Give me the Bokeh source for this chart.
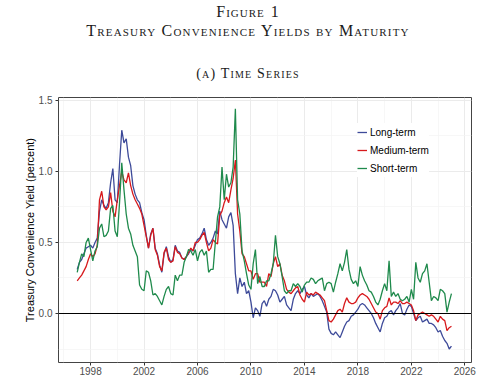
from bokeh.plotting import figure
from bokeh.models import Range1d, FixedTicker, PrintfTickFormatter, Span, Div
from bokeh.layouts import column
from bokeh.embed import file_html
from bokeh.resources import INLINE

# ---- data (bimonthly readings, 1997.0 .. 2025.0) ----
start_year = 1997
steps_per_year = 6

long_term = [
    0.31, 0.36, 0.38, 0.42, 0.46, 0.47,   # 1997
    0.48, 0.46, 0.50, 0.53, 0.72, 0.80,   # 1998
    0.76, 0.74, 0.78, 0.92, 1.02, 0.80,   # 1999
    0.78, 1.05, 1.29, 1.20, 1.23, 1.10,   # 2000
    1.04, 0.90, 0.84, 0.80, 0.78, 0.71,   # 2001
    0.66, 0.55, 0.46, 0.56, 0.60, 0.46,   # 2002
    0.42, 0.34, 0.29, 0.42, 0.47, 0.40,   # 2003
    0.36, 0.38, 0.48, 0.44, 0.43, 0.39,   # 2004
    0.38, 0.40, 0.42, 0.45, 0.44, 0.48,   # 2005
    0.52, 0.53, 0.56, 0.60, 0.52, 0.48,   # 2006
    0.50, 0.53, 0.58, 0.56, 0.72, 0.66,   # 2007
    0.63, 0.60, 0.68, 0.71, 0.62, 0.28,   # 2008
    0.14, 0.25, 0.19, 0.22, 0.14, 0.16,   # 2009
    0.08, -0.03, 0.04, 0.02, -0.02, 0.07,  # 2010
    0.09, 0.05, 0.10, 0.12, 0.17, 0.16,   # 2011
    0.13, 0.08, 0.10, 0.12, 0.06, 0.04,   # 2012
    0.02, 0.10, 0.14, 0.16, 0.14, 0.17,   # 2013
    0.19, 0.13, 0.11, 0.14, 0.12, 0.13,   # 2014
    0.14, 0.12, 0.09, 0.05, 0.01, -0.11,  # 2015
    -0.14, -0.15, -0.13, -0.15, -0.17, -0.13,  # 2016
    -0.09, -0.06, -0.05, -0.02, -0.01, 0.01,   # 2017
    0.03, 0.06, 0.07, 0.06, 0.04, 0.02,   # 2018
    0.00, -0.03, -0.07, -0.10, -0.13, -0.07,  # 2019
    -0.03, -0.02, 0.01, 0.02, -0.01, 0.02,    # 2020
    0.04, 0.07, 0.00, -0.01, 0.03, 0.06,  # 2021
    0.05, 0.00, -0.05, -0.03, -0.02, -0.06,   # 2022
    -0.05, -0.04, -0.07, -0.07, -0.08, -0.10, # 2023
    -0.13, -0.12, -0.16, -0.19, -0.21, -0.25, # 2024
    -0.23,                                # 2025
]

medium_term = [
    0.23, 0.25, 0.27, 0.30, 0.33, 0.38,   # 1997
    0.42, 0.40, 0.42, 0.48, 0.80, 0.86,   # 1998
    0.75, 0.73, 0.75, 0.85, 0.72, 0.68,   # 1999
    0.80, 0.90, 1.00, 0.94, 0.92, 0.99,   # 2000
    0.90, 0.84, 0.80, 0.77, 0.74, 0.70,   # 2001
    0.62, 0.54, 0.46, 0.55, 0.60, 0.45,   # 2002
    0.41, 0.33, 0.30, 0.43, 0.46, 0.38,   # 2003
    0.36, 0.37, 0.47, 0.43, 0.42, 0.39,   # 2004
    0.38, 0.40, 0.43, 0.46, 0.44, 0.50,   # 2005
    0.50, 0.52, 0.55, 0.57, 0.50, 0.44,   # 2006
    0.46, 0.52, 0.50, 0.49, 0.69, 0.72,   # 2007
    0.78, 0.82, 0.78, 0.87, 0.95, 1.08,   # 2008
    0.70, 0.58, 0.42, 0.40, 0.35, 0.30,   # 2009
    0.30, 0.24, 0.28, 0.28, 0.22, 0.22,   # 2010
    0.22, 0.19, 0.28, 0.26, 0.35, 0.40,   # 2011
    0.33, 0.35, 0.27, 0.23, 0.17, 0.15,   # 2012
    0.14, 0.16, 0.18, 0.19, 0.13, 0.10,   # 2013
    0.08, 0.15, 0.13, 0.14, 0.13, 0.15,   # 2014
    0.14, 0.13, 0.11, 0.09, 0.02, -0.05,  # 2015
    -0.06, -0.04, -0.01, 0.02, 0.03, 0.01,    # 2016
    0.07, 0.11, 0.08, 0.07, 0.07, 0.08,   # 2017
    0.11, 0.13, 0.14, 0.13, 0.12, 0.10,   # 2018
    0.07, 0.04, 0.01, 0.00, -0.04, 0.02,  # 2019
    0.04, 0.05, 0.11, 0.06, 0.08, 0.08,   # 2020
    0.07, 0.09, 0.07, 0.07, 0.08, 0.07,   # 2021
    0.06, 0.02, -0.05, -0.01, 0.00, 0.01,     # 2022
    0.00, -0.01, -0.02, -0.01, -0.02, -0.04,  # 2023
    -0.06, -0.02, -0.04, -0.05, -0.12, -0.10, # 2024
    -0.09,                                # 2025
]

short_term = [
    0.29, 0.36, 0.42, 0.40, 0.50, 0.53,   # 1997
    0.45, 0.37, 0.44, 0.47, 0.60, 0.63,   # 1998
    0.54, 0.55, 0.58, 0.74, 0.76, 0.58,   # 1999
    0.54, 0.78, 1.06, 0.87, 0.70, 0.60,   # 2000
    0.56, 0.48, 0.44, 0.40, 0.20, 0.17,   # 2001
    0.16, 0.30, 0.29, 0.23, 0.13, 0.14,   # 2002
    0.12, 0.09, 0.06, 0.12, 0.17, 0.19,   # 2003
    0.14, 0.13, 0.27, 0.23, 0.27, 0.27,   # 2004
    0.36, 0.40, 0.45, 0.44, 0.41, 0.45,   # 2005
    0.37, 0.43, 0.45, 0.41, 0.44, 0.29,   # 2006
    0.31, 0.31, 0.50, 0.68, 0.75, 1.03,   # 2007
    0.80, 0.98, 0.89, 0.92, 1.03, 1.44,   # 2008
    0.80, 0.70, 0.44, 0.37, 0.28, 0.20,   # 2009
    0.17, 0.35, 0.45, 0.21, 0.26, 0.19,   # 2010
    0.19, 0.23, 0.23, 0.28, 0.35, 0.55,   # 2011
    0.40, 0.35, 0.26, 0.16, 0.14, 0.16,   # 2012
    0.16, 0.21, 0.19, 0.21, 0.19, 0.15,   # 2013
    0.20, 0.22, 0.22, 0.25, 0.24, 0.21,   # 2014
    0.23, 0.24, 0.25, 0.16, 0.21, 0.22,   # 2015
    0.21, 0.15, 0.22, 0.28, 0.35, 0.30,   # 2016
    0.36, 0.45, 0.31, 0.24, 0.21, 0.23,   # 2017
    0.19, 0.33, 0.27, 0.23, 0.20, 0.16,   # 2018
    0.15, 0.12, 0.08, 0.06, 0.10, 0.16,   # 2019
    0.21, 0.16, 0.37, 0.12, 0.15, 0.12,   # 2020
    0.14, 0.10, 0.09, 0.10, 0.12, 0.08,   # 2021
    0.17, 0.10, 0.36, 0.25, 0.22, 0.28,   # 2022
    0.30, 0.35, 0.22, 0.09, 0.12, 0.11,   # 2023
    0.09, 0.17, 0.16, 0.14, 0.01, 0.08,   # 2024
    0.14,                                 # 2025
]

dates = [start_year + i / steps_per_year for i in range(len(long_term))]

series_names = ["Long-term", "Medium-term", "Short-term"]
series_colors = ["#3D4A99", "#D7191C", "#1F8A4C"]

x_ticks = [1998, 2002, 2006, 2010, 2014, 2018, 2022, 2026]
x_minor = [1996, 2000, 2004, 2008, 2012, 2016, 2020, 2024]
y_ticks = [0.0, 0.5, 1.0, 1.5]
y_minor = [-0.25, 0.25, 0.75, 1.25]
zero_line = 0.0

title_lines = ["Figure 1", "Treasury Convenience Yields by Maturity"]
subtitle = "(a) Time Series"
y_label = "Treasury Convenience Yield (percent)"

# ---- header ----
header_html = f"""
<div style="width:496px;text-align:center;font-family:'Liberation Serif',serif;font-variant:small-caps;color:#1a1a1a;">
  <div style="font-size:16px;line-height:18px;margin-top:3px;letter-spacing:1px;word-spacing:1px;">{title_lines[0]}</div>
  <div style="font-size:16px;line-height:19px;letter-spacing:1.2px;">{title_lines[1]}</div>
  <div style="font-size:14px;line-height:16px;margin-top:26px;letter-spacing:1.2px;">{subtitle}</div>
</div>
"""
header = Div(text=header_html, width=500, height=89, margin=0)

# ---- figure ----
p = figure(frame_width=413, frame_height=265,
           x_range=Range1d(1995.6, 2026.5), y_range=Range1d(-0.345, 1.52),
           output_backend="svg", toolbar_location=None,
           min_border_left=58, min_border_right=29, min_border_top=8,
           min_border_bottom=0, background_fill_color="white")

for vals, name, col in zip([long_term, medium_term, short_term], series_names, series_colors):
    p.line(dates, vals, line_color=col, line_width=1.3, legend_label=name)

p.add_layout(Span(location=zero_line, dimension="width", line_color="black", line_width=1.2))

p.xaxis.ticker = FixedTicker(ticks=x_ticks, minor_ticks=x_minor)
p.yaxis.ticker = FixedTicker(ticks=y_ticks, minor_ticks=y_minor)
p.xaxis.formatter = PrintfTickFormatter(format="%d")
p.yaxis.formatter = PrintfTickFormatter(format="%.1f")

for ax in (p.xaxis, p.yaxis):
    ax.axis_line_color = None
    ax.major_tick_in = 0
    ax.major_tick_out = 3
    ax.major_tick_line_color = "#333333"
    ax.minor_tick_line_color = None
    ax.major_label_text_font = "Liberation Sans"
    ax.major_label_text_font_size = "10px"
    ax.major_label_text_color = "#4D4D4D"

p.xaxis.major_label_standoff = 0
p.yaxis.major_label_standoff = 2

p.yaxis.axis_label = y_label
p.yaxis.axis_label_text_font = "Liberation Sans"
p.yaxis.axis_label_text_font_style = "normal"
p.yaxis.axis_label_text_font_size = "11px"
p.yaxis.axis_label_text_color = "black"
p.yaxis.axis_label_standoff = 0

p.xgrid.grid_line_color = "#EBEBEB"
p.ygrid.grid_line_color = "#EBEBEB"
p.xgrid.minor_grid_line_color = "#F3F3F3"
p.ygrid.minor_grid_line_color = "#F3F3F3"
p.xgrid.minor_grid_line_width = 0.7
p.ygrid.minor_grid_line_width = 0.7

p.outline_line_color = "#444444"
p.outline_line_width = 1

leg = p.legend[0]
leg.location = (299, 185)
leg.border_line_color = None
leg.background_fill_color = "white"
leg.background_fill_alpha = 1
leg.padding = 6
leg.spacing = 0
leg.margin = 0
leg.glyph_width = 10
leg.glyph_height = 18
leg.label_height = 18
leg.label_standoff = 3
leg.label_text_font = "Liberation Sans"
leg.label_text_font_size = "10px"
leg.label_text_color = "black"

layout = column(header, p)
open("out.html", "w").write(file_html(layout, INLINE))
